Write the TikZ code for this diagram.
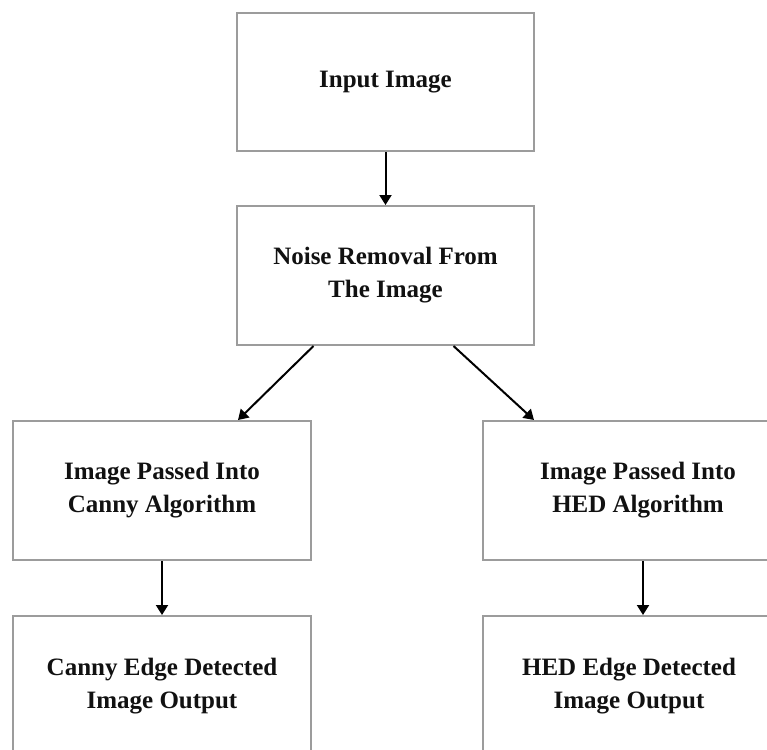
\documentclass[tikz,border=0pt]{standalone}
\usepackage{fontspec}
\setmainfont{Liberation Serif}
\usepackage{xcolor}
\usetikzlibrary{arrows.meta,positioning}
\definecolor{Frame}{HTML}{9C9C9C}
\definecolor{Ink}{HTML}{111111}
\tikzset{
  stage/.style={draw=Frame,fill=white,line width=2pt,minimum width=297pt,minimum height=138pt,align=center,font=\fontsize{25pt}{33pt}\selectfont\bfseries,text=Ink,inner sep=0pt},
  arr/.style={-{Triangle[length=10pt,width=12pt]},draw=black,line width=2pt}
}
\begin{document}
\begin{tikzpicture}[x=1pt,y=-1pt]
  \useasboundingbox[fill=white] (0,0) rectangle (767,749);
  \node[stage,anchor=north west] (input) at (236,12) {Input Image};
  \node[stage,below=53pt of input,minimum height=139pt] (noise) {Noise Removal From\\The Image};
  \node[stage,anchor=north west,minimum width=298pt,minimum height=139pt] (canny) at (12,420) {Image Passed Into\\Canny Algorithm};
  \node[stage,right=170pt of canny,minimum width=310pt,minimum height=139pt] (hed) {Image Passed Into\\HED Algorithm};
  \node[stage,below=54pt of canny,minimum width=298pt,minimum height=140pt] (cannyout) {Canny Edge Detected\\Image Output};
  \node[stage,below=54pt of hed.south west,anchor=north west,minimum width=292pt,minimum height=140pt] (hedout) {HED Edge Detected\\Image Output};
  \draw[arr] (input) -- (noise);
  \draw[arr] ([xshift=-72pt]noise.south) -- ([xshift=76pt]canny.north);
  \draw[arr] ([xshift=68pt]noise.south) -- ([xshift=-104pt]hed.north);
  \draw[arr] (canny) -- (cannyout);
  \draw[arr] ([xshift=5pt]hed.south) -- ([xshift=5pt]hed.south |- hedout.north);
\end{tikzpicture}
\end{document}
